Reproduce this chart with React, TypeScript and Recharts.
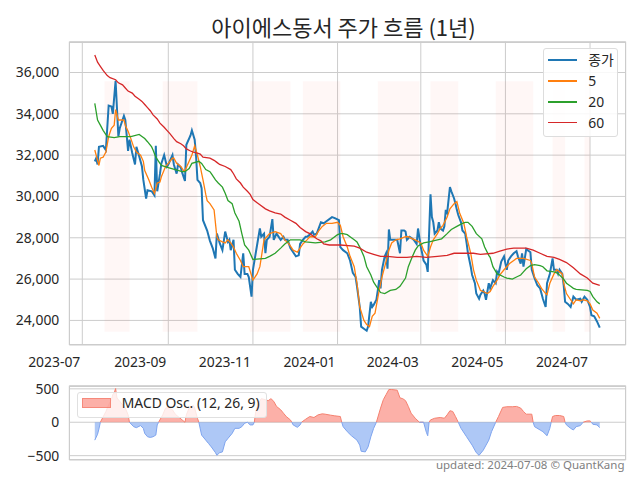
import React from "react";
import { ComposedChart, Line, Area, XAxis, YAxis, CartesianGrid, ReferenceArea } from "recharts";

const FONT = "'Noto Sans', 'Noto Sans CJK KR', sans-serif";
const TITLE = "아이에스동서 주가 흐름 (1년)";
const FOOTER = "updated: 2024-07-08 © QuantKang";
const MACD_LABEL = "MACD Osc. (12, 26, 9)";

const closeDates = [
  "2023-07-10","2023-07-11","2023-07-12","2023-07-13","2023-07-16","2023-07-18","2023-07-20","2023-07-22","2023-07-23","2023-07-25",
  "2023-07-27","2023-07-28","2023-07-31","2023-08-01","2023-08-03","2023-08-04","2023-08-06","2023-08-08","2023-08-09","2023-08-11",
  "2023-08-13","2023-08-14","2023-08-16","2023-08-17","2023-08-20","2023-08-22","2023-08-23","2023-08-24","2023-08-26","2023-08-27",
  "2023-08-29","2023-08-31","2023-09-01","2023-09-04","2023-09-05","2023-09-07","2023-09-08","2023-09-10","2023-09-11","2023-09-13",
  "2023-09-14","2023-09-17","2023-09-18","2023-09-20","2023-09-21","2023-09-22","2023-09-24","2023-09-25","2023-09-26","2023-09-29",
  "2023-10-01","2023-10-03","2023-10-05","2023-10-06","2023-10-08","2023-10-10","2023-10-12","2023-10-14","2023-10-15","2023-10-16",
  "2023-10-18","2023-10-19","2023-10-21","2023-10-23","2023-10-25","2023-10-26","2023-10-28","2023-10-29","2023-10-31","2023-11-01",
  "2023-11-03","2023-11-06","2023-11-07","2023-11-09","2023-11-10","2023-11-11","2023-11-13","2023-11-15","2023-11-16","2023-11-18",
  "2023-11-21","2023-11-23","2023-11-24","2023-11-26","2023-11-28","2023-11-30","2023-12-02","2023-12-04","2023-12-05","2023-12-07",
  "2023-12-09","2023-12-10","2023-12-12","2023-12-14","2023-12-15","2023-12-17","2023-12-20","2023-12-22","2023-12-23","2023-12-28",
  "2023-12-30","2024-01-02","2024-01-03","2024-01-05","2024-01-08","2024-01-10","2024-01-12","2024-01-14","2024-01-15","2024-01-17",
  "2024-01-18","2024-01-20","2024-01-22","2024-01-23","2024-01-25","2024-01-26","2024-01-27","2024-01-29","2024-01-30","2024-01-31",
  "2024-02-01","2024-02-02","2024-02-04","2024-02-05","2024-02-06","2024-02-07","2024-02-08","2024-02-10","2024-02-12","2024-02-13",
  "2024-02-15","2024-02-16","2024-02-18","2024-02-19","2024-02-20","2024-02-22","2024-02-24","2024-02-25","2024-02-27","2024-02-28",
  "2024-03-01","2024-03-02","2024-03-03","2024-03-05","2024-03-06","2024-03-08","2024-03-09","2024-03-10","2024-03-11","2024-03-13",
  "2024-03-14","2024-03-15","2024-03-17","2024-03-18","2024-03-19","2024-03-20","2024-03-22","2024-03-23","2024-03-25","2024-03-26",
  "2024-03-27","2024-03-28","2024-03-30","2024-03-31","2024-04-02","2024-04-03","2024-04-04","2024-04-06","2024-04-07","2024-04-09",
  "2024-04-10","2024-04-12","2024-04-13","2024-04-15","2024-04-16","2024-04-17","2024-04-19","2024-04-20","2024-04-22","2024-04-24",
  "2024-04-25","2024-04-26","2024-04-28","2024-04-30","2024-05-01","2024-05-02","2024-05-03","2024-05-05","2024-05-07","2024-05-09",
  "2024-05-10","2024-05-12","2024-05-13","2024-05-14","2024-05-16","2024-05-19","2024-05-20","2024-05-22","2024-05-24","2024-05-26",
  "2024-05-27","2024-05-28","2024-05-30","2024-05-31","2024-06-02","2024-06-04","2024-06-05","2024-06-07","2024-06-08","2024-06-09",
  "2024-06-11","2024-06-12","2024-06-13","2024-06-15","2024-06-17","2024-06-19","2024-06-21","2024-06-24","2024-06-25","2024-06-27",
  "2024-06-29","2024-07-01","2024-07-02","2024-07-04","2024-07-06","2024-07-08",
];
const closeValues = [
  31700,31850,31550,32400,32450,32250,34400,34350,34000,35600,
  32900,33300,33900,33700,32200,32750,32100,31550,32400,31950,
  31450,30800,29900,30300,30250,30050,32450,30250,31100,31600,
  32000,31450,31550,32000,31550,31100,31550,31400,31150,30750,
  32500,32950,33200,32750,31950,30800,30650,30400,28850,28350,
  27850,27500,27000,28200,27750,27400,28300,27800,27900,27400,
  27900,26450,26250,26100,27250,26250,26250,26100,25150,26450,
  27250,28450,28050,28200,27250,27900,28050,28900,27900,28200,
  27900,28050,27900,27900,27500,27300,27100,27150,27700,27900,
  28050,28050,28150,28300,28150,28200,28750,28700,28750,29000,
  28950,28850,27550,27400,27250,26900,26300,26100,25650,24650,
  23700,23600,23500,23700,24900,24650,24750,25000,25450,25950,
  25550,26450,27100,27250,26500,28400,27900,27900,27900,27900,
  27250,28350,28350,28300,27900,28050,27950,27900,27700,28450,
  27550,27250,26900,26700,26350,30100,29000,28750,28200,28350,
  28750,28450,28350,28550,29350,29200,30450,30250,29900,29650,
  29350,29100,28750,28350,28200,27750,27250,26600,26200,25800,
  25300,25050,25250,25450,25300,25000,25800,25550,25950,25800,
  26350,26250,26850,27100,26750,26450,26900,27100,27250,27350,
  27100,26750,27250,26600,27450,27300,26450,26050,25700,25550,
  25300,25050,24650,25800,26250,27000,26450,26450,26250,26450,
  26250,25700,24900,24800,24650,25150,25000,25050,24900,25150,
  25000,24650,24250,24200,23950,23650,
];

const ma5Points: [string, number][] = [
  ["2023-07-10",32250],["2023-07-12",31750],["2023-07-13",31500],["2023-07-14",31850],["2023-07-16",31900],
  ["2023-07-18",32150],["2023-07-20",32900],["2023-07-22",33300],["2023-07-24",33450],["2023-07-25",34200],
  ["2023-07-27",33700],["2023-07-29",33700],["2023-07-31",33700],["2023-08-01",33450],["2023-08-03",33150],
  ["2023-08-05",32800],["2023-08-07",32400],["2023-08-09",32150],["2023-08-12",32000],["2023-08-14",31700],
  ["2023-08-15",31250],["2023-08-18",30800],["2023-08-20",30450],["2023-08-22",30150],["2023-08-24",30650],
  ["2023-08-26",30700],["2023-08-27",30950],["2023-08-30",31450],["2023-09-01",31600],["2023-09-04",31850],
  ["2023-09-05",31850],["2023-09-07",31600],["2023-09-10",31450],["2023-09-12",31250],["2023-09-13",31250],
  ["2023-09-16",31700],["2023-09-18",32000],["2023-09-20",32450],["2023-09-22",32000],["2023-09-24",31450],
  ["2023-09-26",30800],["2023-09-28",30100],["2023-09-29",29800],["2023-10-01",29650],["2023-10-04",29350],
  ["2023-10-06",28050],["2023-10-07",27900],["2023-10-10",27800],["2023-10-12",27750],["2023-10-14",27900],
  ["2023-10-16",27750],["2023-10-18",27550],["2023-10-20",27250],["2023-10-23",26900],["2023-10-25",26600],
  ["2023-10-29",26600],["2023-11-01",25950],["2023-11-04",26250],["2023-11-06",26600],["2023-11-09",27900],
  ["2023-11-11",28050],["2023-11-13",28200],["2023-11-17",28300],["2023-11-21",28200],["2023-11-24",27900],
  ["2023-11-27",27700],["2023-11-30",27400],["2023-12-03",27300],["2023-12-05",27500],["2023-12-07",27700],
  ["2023-12-10",27900],["2023-12-12",28050],["2023-12-16",28050],["2023-12-18",28300],["2023-12-21",28550],
  ["2023-12-24",28700],["2023-12-28",28700],["2024-01-01",28750],["2024-01-03",28600],["2024-01-05",28050],
  ["2024-01-08",27550],["2024-01-10",27100],["2024-01-13",26600],["2024-01-15",25800],["2024-01-17",24650],
  ["2024-01-20",24000],["2024-01-22",23800],["2024-01-24",23700],["2024-01-26",24200],["2024-01-28",24350],
  ["2024-01-31",25450],["2024-02-02",26100],["2024-02-04",26600],["2024-02-07",27400],["2024-02-09",27750],
  ["2024-02-12",27900],["2024-02-15",27950],["2024-02-19",28050],["2024-02-21",28050],["2024-02-24",27950],
  ["2024-02-26",27900],["2024-03-01",27750],["2024-03-03",27400],["2024-03-06",27100],["2024-03-08",27550],
  ["2024-03-10",27900],["2024-03-13",28200],["2024-03-15",28450],["2024-03-17",28600],["2024-03-20",29000],
  ["2024-03-22",29400],["2024-03-25",29650],["2024-03-27",29750],["2024-03-29",29200],["2024-04-01",28700],
  ["2024-04-03",28050],["2024-04-06",27250],["2024-04-08",26450],["2024-04-10",25950],["2024-04-13",25450],
  ["2024-04-15",25400],["2024-04-18",25300],["2024-04-20",25400],["2024-04-22",25650],["2024-04-25",25950],
  ["2024-04-27",26200],["2024-04-30",26450],["2024-05-02",26600],["2024-05-04",26750],["2024-05-07",26900],
  ["2024-05-09",27000],["2024-05-14",27000],["2024-05-19",26900],["2024-05-20",26750],["2024-05-22",26100],
  ["2024-05-25",25800],["2024-05-27",25550],["2024-05-30",25300],["2024-05-31",25250],["2024-06-02",25800],
  ["2024-06-05",26250],["2024-06-07",26450],["2024-06-09",26350],["2024-06-11",26250],["2024-06-12",25800],
  ["2024-06-14",25300],["2024-06-17",25000],["2024-06-19",24800],["2024-06-21",25000],["2024-06-24",24950],
  ["2024-06-26",25000],["2024-06-29",24950],["2024-07-01",24800],["2024-07-03",24500],["2024-07-06",24350],
  ["2024-07-08",24100],
];

const ma20Points: [string, number][] = [
  ["2023-07-10",34500],["2023-07-12",33700],["2023-07-14",33450],["2023-07-16",33200],["2023-07-19",32900],
  ["2023-07-24",32850],["2023-07-28",32900],["2023-08-05",32900],["2023-08-11",33000],["2023-08-13",32900],
  ["2023-08-15",32800],["2023-08-17",32650],["2023-08-20",32400],["2023-08-21",32250],["2023-08-23",31900],
  ["2023-08-25",31700],["2023-08-27",31500],["2023-09-01",31400],["2023-09-06",31300],["2023-09-11",31200],
  ["2023-09-13",31200],["2023-09-16",31350],["2023-09-18",31600],["2023-09-23",31700],["2023-09-25",31600],
  ["2023-09-28",31300],["2023-10-01",31200],["2023-10-02",31100],["2023-10-05",30800],["2023-10-07",30650],
  ["2023-10-10",30450],["2023-10-12",30150],["2023-10-14",29800],["2023-10-17",29650],["2023-10-19",29200],
  ["2023-10-22",28800],["2023-10-24",28200],["2023-10-26",27650],["2023-10-29",27400],["2023-10-31",27100],
  ["2023-11-01",26950],["2023-11-10",27000],["2023-11-13",27100],["2023-11-17",27250],["2023-11-21",27500],
  ["2023-11-24",27700],["2023-11-28",27900],["2023-12-02",27900],["2023-12-05",27900],["2023-12-09",27800],
  ["2023-12-16",27750],["2023-12-23",27800],["2023-12-27",27900],["2023-12-29",28000],["2024-01-01",28150],
  ["2024-01-03",28200],["2024-01-05",28200],["2024-01-08",28150],["2024-01-10",28050],["2024-01-13",27900],
  ["2024-01-15",27800],["2024-01-17",27550],["2024-01-20",27100],["2024-01-22",26600],["2024-01-25",26200],
  ["2024-01-27",25850],["2024-01-29",25650],["2024-02-01",25350],["2024-02-04",25300],["2024-02-08",25450],
  ["2024-02-12",25500],["2024-02-15",25650],["2024-02-19",26050],["2024-02-21",26600],["2024-02-24",27100],
  ["2024-02-26",27400],["2024-02-28",27600],["2024-03-03",27750],["2024-03-07",27800],["2024-03-10",27850],
  ["2024-03-13",27900],["2024-03-16",27950],["2024-03-20",28200],["2024-03-23",28400],["2024-03-27",28550],
  ["2024-03-31",28700],["2024-04-02",28750],["2024-04-04",28750],["2024-04-07",28550],["2024-04-10",28200],
  ["2024-04-14",27950],["2024-04-16",27550],["2024-04-19",27150],["2024-04-20",27050],["2024-04-22",26600],
  ["2024-04-25",26250],["2024-04-27",26200],["2024-04-30",26100],["2024-05-02",26050],["2024-05-06",26000],
  ["2024-05-09",26100],["2024-05-12",26200],["2024-05-14",26350],["2024-05-16",26500],["2024-05-19",26650],
  ["2024-05-22",26700],["2024-05-26",26650],["2024-05-28",26600],["2024-05-31",26400],["2024-06-05",26350],
  ["2024-06-07",26300],["2024-06-09",26200],["2024-06-12",26000],["2024-06-14",25800],["2024-06-17",25650],
  ["2024-06-19",25550],["2024-06-21",25500],["2024-06-29",25450],["2024-07-01",25400],["2024-07-03",25150],
  ["2024-07-06",24900],["2024-07-08",24800],
];

const ma60Points: [string, number][] = [
  ["2023-07-10",36850],["2023-07-12",36500],["2023-07-14",36300],["2023-07-16",36100],["2023-07-19",35850],
  ["2023-07-21",35750],["2023-07-25",35650],["2023-07-27",35500],["2023-07-30",35400],["2023-08-01",35250],
  ["2023-08-03",35100],["2023-08-06",35000],["2023-08-08",34850],["2023-08-11",34700],["2023-08-13",34600],
  ["2023-08-15",34450],["2023-08-17",34300],["2023-08-19",34150],["2023-08-21",33950],["2023-08-24",33750],
  ["2023-08-26",33550],["2023-08-29",33350],["2023-08-31",33200],["2023-09-02",33050],["2023-09-05",32800],
  ["2023-09-07",32650],["2023-09-10",32550],["2023-09-12",32450],["2023-09-14",32300],["2023-09-17",32200],
  ["2023-09-19",32150],["2023-09-22",32100],["2023-09-24",32050],["2023-09-26",31900],["2023-10-01",31850],
  ["2023-10-04",31750],["2023-10-06",31650],["2023-10-08",31550],["2023-10-12",31450],["2023-10-16",31300],
  ["2023-10-18",31100],["2023-10-20",30850],["2023-10-23",30650],["2023-10-25",30450],["2023-10-28",30250],
  ["2023-10-30",30100],["2023-11-01",29850],["2023-11-04",29700],["2023-11-06",29600],["2023-11-10",29400],
  ["2023-11-13",29300],["2023-11-17",29200],["2023-11-21",29150],["2023-11-24",29000],["2023-11-28",28850],
  ["2023-12-02",28700],["2023-12-05",28500],["2023-12-09",28300],["2023-12-12",28200],["2023-12-15",28050],
  ["2023-12-17",27950],["2023-12-20",27850],["2023-12-22",27700],["2023-12-26",27650],["2024-01-03",27650],
  ["2024-01-13",27600],["2024-01-17",27500],["2024-01-22",27300],["2024-01-27",27200],["2024-02-01",27100],
  ["2024-02-06",27100],["2024-02-13",27050],["2024-02-20",27050],["2024-02-27",27100],["2024-03-05",27050],
  ["2024-03-13",27100],["2024-03-20",27150],["2024-03-25",27250],["2024-04-01",27250],["2024-04-08",27250],
  ["2024-04-13",27200],["2024-04-22",27250],["2024-04-27",27350],["2024-05-02",27450],["2024-05-07",27500],
  ["2024-05-12",27500],["2024-05-16",27500],["2024-05-21",27400],["2024-05-26",27250],["2024-05-31",27100],
  ["2024-06-05",27050],["2024-06-09",26950],["2024-06-14",26800],["2024-06-19",26550],["2024-06-24",26250],
  ["2024-06-29",26050],["2024-07-03",25800],["2024-07-08",25700],
];

const macdPoints: [string, number][] = [
  ["2023-07-10",-268],["2023-07-12",-180],["2023-07-13",-100],["2023-07-14",0],["2023-07-18",160],
  ["2023-07-20",263],["2023-07-22",338],["2023-07-23",414],["2023-07-24",440],["2023-07-25",505],
  ["2023-07-26",363],["2023-07-28",313],["2023-07-30",263],["2023-08-01",212],["2023-08-03",111],
  ["2023-08-04",0],["2023-08-07",-66],["2023-08-09",-81],["2023-08-12",-50],["2023-08-14",-91],
  ["2023-08-15",-167],["2023-08-17",-217],["2023-08-19",-227],["2023-08-21",-217],["2023-08-23",-192],
  ["2023-08-24",-40],["2023-08-25",0],["2023-08-28",111],["2023-08-30",212],["2023-09-01",222],
  ["2023-09-04",187],["2023-09-06",121],["2023-09-08",86],["2023-09-11",35],["2023-09-13",0],
  ["2023-09-14",111],["2023-09-16",212],["2023-09-18",237],["2023-09-19",252],["2023-09-20",212],
  ["2023-09-22",60],["2023-09-23",0],["2023-09-25",-192],["2023-09-28",-268],["2023-09-30",-318],
  ["2023-10-02",-369],["2023-10-05",-455],["2023-10-06",-495],["2023-10-08",-455],["2023-10-10",-444],
  ["2023-10-12",-293],["2023-10-14",-242],["2023-10-17",-167],["2023-10-19",-91],["2023-10-22",-91],
  ["2023-10-24",-66],["2023-10-26",-15],["2023-10-28",0],["2023-10-30",-40],["2023-11-01",-40],
  ["2023-11-02",0],["2023-11-03",162],["2023-11-05",288],["2023-11-07",353],["2023-11-10",338],
  ["2023-11-12",323],["2023-11-14",353],["2023-11-16",313],["2023-11-18",237],["2023-11-21",187],
  ["2023-11-23",136],["2023-11-25",86],["2023-11-28",35],["2023-11-29",0],["2023-11-30",-40],
  ["2023-12-03",-76],["2023-12-05",-40],["2023-12-06",0],["2023-12-09",45],["2023-12-12",86],
  ["2023-12-15",71],["2023-12-18",111],["2023-12-21",126],["2023-12-23",121],["2023-12-27",106],
  ["2023-12-30",96],["2024-01-03",86],["2024-01-04",0],["2024-01-05",-66],["2024-01-08",-141],
  ["2024-01-11",-202],["2024-01-15",-268],["2024-01-17",-343],["2024-01-18",-434],["2024-01-21",-444],
  ["2024-01-23",-369],["2024-01-25",-217],["2024-01-27",-91],["2024-01-29",0],["2024-02-01",212],
  ["2024-02-03",338],["2024-02-05",414],["2024-02-07",490],["2024-02-09",490],["2024-02-13",480],
  ["2024-02-15",364],["2024-02-17",353],["2024-02-19",323],["2024-02-21",237],["2024-02-23",136],
  ["2024-02-26",60],["2024-02-29",0],["2024-03-03",0],["2024-03-05",-150],["2024-03-06",-202],
  ["2024-03-07",0],["2024-03-08",35],["2024-03-11",60],["2024-03-15",71],["2024-03-18",60],
  ["2024-03-20",111],["2024-03-22",172],["2024-03-24",162],["2024-03-26",86],["2024-03-28",0],
  ["2024-03-30",-91],["2024-04-03",-217],["2024-04-07",-343],["2024-04-10",-455],["2024-04-12",-495],
  ["2024-04-15",-419],["2024-04-19",-268],["2024-04-21",-141],["2024-04-24",0],["2024-04-26",86],
  ["2024-04-29",222],["2024-05-02",232],["2024-05-06",232],["2024-05-09",237],["2024-05-12",212],
  ["2024-05-14",162],["2024-05-16",121],["2024-05-20",121],["2024-05-21",0],["2024-05-22",-66],
  ["2024-05-26",-116],["2024-05-28",-141],["2024-05-31",-202],["2024-06-02",-91],["2024-06-03",0],
  ["2024-06-04",86],["2024-06-06",101],["2024-06-09",101],["2024-06-12",86],["2024-06-13",0],
  ["2024-06-14",-40],["2024-06-17",-91],["2024-06-19",-116],["2024-06-21",-66],["2024-06-24",-50],
  ["2024-06-26",0],["2024-06-29",20],["2024-07-01",20],["2024-07-02",0],["2024-07-03",-30],
  ["2024-07-06",-40],["2024-07-08",-80],
];

const bands: [string, string][] = [
  ["2023-07-17","2023-08-04"],["2023-08-28","2023-09-22"],["2023-10-30","2023-11-28"],
  ["2023-12-07","2024-01-03"],["2024-01-30","2024-02-29"],["2024-03-08","2024-03-28"],
  ["2024-04-24","2024-05-21"],["2024-06-04","2024-06-13"],["2024-06-27","2024-07-01"],
];
const bandLow = 23450;
const bandHigh = 35570;

const xTickDates = ["2023-07-01","2023-09-01","2023-11-01","2024-01-01","2024-03-01","2024-05-01","2024-07-01"];
const xTickLabels = ["2023-07","2023-09","2023-11","2024-01","2024-03","2024-05","2024-07"];
const priceTicks = [24000, 26000, 28000, 30000, 32000, 34000, 36000];
const macdTicks = [-500, 0, 500];

const legendItems = [
  { label: "종가", color: "#1f77b4", width: 2.6 },
  { label: "5", color: "#ff7f0e", width: 1.5 },
  { label: "20", color: "#2ca02c", width: 1.5 },
  { label: "60", color: "#d62728", width: 1.5 },
];

const DAY = 86400000;
const toT = (s: string) => Date.parse(s + "T00:00:00Z");
const xTicks = xTickDates.map(toT);
const xDomain: [number, number] = [toT("2023-07-01") - 9.37 * DAY, toT("2024-07-01") + 25.7 * DAY];

type Row = { t: number; close?: number; ma5?: number; ma20?: number; ma60?: number };

function buildRows(): Row[] {
  const map = new Map<number, Row>();
  const put = (d: string, key: keyof Row, v: number) => {
    const t = toT(d);
    let r = map.get(t);
    if (!r) { r = { t }; map.set(t, r); }
    (r as any)[key] = v;
  };
  closeDates.forEach((d, i) => put(d, "close", closeValues[i]));
  ma5Points.forEach(([d, v]) => put(d, "ma5", v));
  ma20Points.forEach(([d, v]) => put(d, "ma20", v));
  ma60Points.forEach(([d, v]) => put(d, "ma60", v));
  return Array.from(map.values()).sort((a, b) => a.t - b.t);
}

const rows = buildRows();
const macdRows = macdPoints.map(([d, v]) => ({
  t: toT(d),
  pos: v >= 0 ? v : null,
  neg: v <= 0 ? v : null,
}));

const tickLabelOf = (t: number) => xTickLabels[xTicks.indexOf(t)] ?? "";

const XTick = (props: any) => {
  const { x, y, payload } = props;
  return (
    <text x={x - 2} y={y + 21.5} textAnchor="end" fontSize={13.9} fill="#262626" fontFamily={FONT}>
      {tickLabelOf(payload.value)}
    </text>
  );
};

const PLOT_L = 69.3;
const PLOT_R = 625.7;

export default function App() {
  return (
    <div style={{ position: "absolute", left: 0, top: 0, width: 640, height: 480, background: "#fff", fontFamily: FONT, overflow: "hidden" }}>
      <div style={{ position: "absolute", left: PLOT_L - 4, width: PLOT_R - PLOT_L, top: 12, height: 28, lineHeight: "28px", textAlign: "center", fontSize: 22, color: "#262626", fontFamily: "'Noto Sans CJK KR', sans-serif" }}>
        {TITLE}
      </div>

      <div style={{ position: "absolute", left: 0, top: 0 }}>
        <ComposedChart width={640} height={370} data={rows} margin={{ top: 41.7, right: 640 - PLOT_R, bottom: 0, left: 0 }}>
          <CartesianGrid stroke="#cccccc" strokeWidth={1} />
          <XAxis type="number" dataKey="t" domain={xDomain} ticks={xTicks} allowDataOverflow interval={0}
            tick={<XTick />} tickLine={false} axisLine={false} tickSize={0} tickMargin={0} height={25} />
          <YAxis type="number" domain={[22810, 37490]} ticks={priceTicks} allowDataOverflow interval={0}
            width={PLOT_L} tickLine={false} axisLine={false} tickSize={0} tickMargin={10}
            tick={{ fontSize: 13.9, fill: "#262626", fontFamily: FONT }}
            tickFormatter={(v: number) => v.toLocaleString("en-US")} />
          {bands.map(([a, b], i) => (
            <ReferenceArea key={i} x1={toT(a)} x2={toT(b)} y1={bandLow} y2={bandHigh} fill="#ff6347" fillOpacity={0.05} stroke="none" />
          ))}
          <Line type="linear" dataKey="close" stroke="#1f77b4" strokeWidth={2} dot={false} connectNulls isAnimationActive={false} />
          <Line type="linear" dataKey="ma5" stroke="#ff7f0e" strokeWidth={1.3} dot={false} connectNulls isAnimationActive={false} />
          <Line type="linear" dataKey="ma20" stroke="#2ca02c" strokeWidth={1.3} dot={false} connectNulls isAnimationActive={false} />
          <Line type="linear" dataKey="ma60" stroke="#d62728" strokeWidth={1.3} dot={false} connectNulls isAnimationActive={false} />
        </ComposedChart>
      </div>
      <div style={{ position: "absolute", left: PLOT_L, top: 41.7, width: PLOT_R - PLOT_L, height: 345 - 41.7, border: "1px solid #cccccc", boxSizing: "border-box", pointerEvents: "none" }} />

      <div style={{ position: "absolute", left: 543.3, top: 48.3, width: 75, height: 88.4, background: "rgba(255,255,255,0.85)", border: "1px solid #dddddd", borderRadius: 3, boxSizing: "border-box" }} />
      {legendItems.map((it, i) => {
        const cy = 60 + i * 20.9;
        return (
          <React.Fragment key={it.label}>
            <div style={{ position: "absolute", left: 548.3, top: cy - it.width / 2, width: 29, height: it.width, background: it.color }} />
            <div style={{ position: "absolute", left: 588.3, top: cy - 10, height: 20, lineHeight: "20px", fontSize: 13.9, color: "#262626", whiteSpace: "nowrap" }}>{it.label}</div>
          </React.Fragment>
        );
      })}

      <div style={{ position: "absolute", left: 0, top: 370 }}>
        <ComposedChart width={640} height={110} data={macdRows} margin={{ top: 15.7, right: 640 - PLOT_R, bottom: 20, left: 0 }}>
          <CartesianGrid stroke="#cccccc" strokeWidth={1} />
          <XAxis type="number" dataKey="t" domain={xDomain} ticks={xTicks} allowDataOverflow interval={0}
            tick={false} tickLine={false} axisLine={false} height={0} />
          <YAxis type="number" domain={[-565, 547]} ticks={macdTicks} allowDataOverflow interval={0}
            width={PLOT_L} tickLine={false} axisLine={false} tickSize={0} tickMargin={10}
            tick={{ fontSize: 13.9, fill: "#262626", fontFamily: FONT }}
            tickFormatter={(v: number) => (v < 0 ? "\u2212" + Math.abs(v) : String(v))} />
          <Area type="linear" dataKey="pos" baseValue={0} stroke="#f4806f" strokeWidth={1} fill="#fa8072" fillOpacity={0.62} dot={false} activeDot={false} isAnimationActive={false} />
          <Area type="linear" dataKey="neg" baseValue={0} stroke="#7ea4ee" strokeWidth={1} fill="#6495ed" fillOpacity={0.52} dot={false} activeDot={false} isAnimationActive={false} />
        </ComposedChart>
      </div>
      <div style={{ position: "absolute", left: PLOT_L, top: 385.7, width: PLOT_R - PLOT_L, height: 460 - 385.7, border: "1px solid #cccccc", boxSizing: "border-box", pointerEvents: "none" }} />

      <div style={{ position: "absolute", left: 76.7, top: 392, width: 190, height: 25.7, background: "rgba(255,255,255,0.8)", border: "1px solid #e0e0e0", borderRadius: 3, boxSizing: "border-box" }} />
      <div style={{ position: "absolute", left: 81.7, top: 397.7, width: 29.3, height: 10, background: "rgba(250,128,114,0.62)", boxSizing: "border-box", border: "1px solid rgba(244,128,111,0.8)" }} />
      <div style={{ position: "absolute", left: 121.7, top: 393, height: 20, lineHeight: "20px", fontSize: 13.9, color: "#262626", whiteSpace: "nowrap" }}>{MACD_LABEL}</div>

      <div style={{ position: "absolute", right: 640 - 624.5, top: 457, height: 16, lineHeight: "16px", fontSize: 11.5, color: "#808080", whiteSpace: "nowrap" }}>{FOOTER}</div>
    </div>
  );
}
